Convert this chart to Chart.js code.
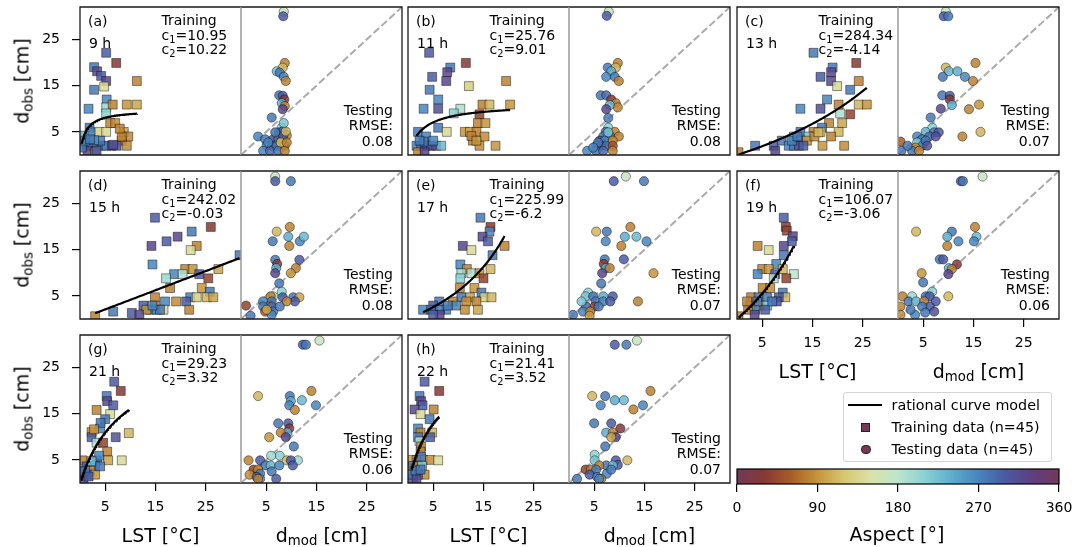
<!DOCTYPE html>
<html>
<head>
<meta charset="utf-8">
<script src="https://cdn.jsdelivr.net/npm/chart.js@4.4.1/dist/chart.umd.min.js"></script>
<style>
html, body { margin: 0; padding: 0; background: #fff; }
#stage { position: relative; width: 1072px; height: 547px; overflow: hidden; font-family: "DejaVu Sans", sans-serif; color: #000; }
#stage canvas { position: absolute; }
.t { position: absolute; white-space: nowrap; line-height: 1; transform: translateY(-50%); }
.s { font-size: 70%; vertical-align: -0.3em; line-height: 0; }
</style>
</head>
<body>
<div id="stage"></div>
<script>
// panel labels and fitted coefficients of the rational curve d = x / (c1 + c2 x) [m]
var panelTags = ['(a)', '(b)', '(c)', '(d)', '(e)', '(f)', '(g)', '(h)'];
var hourLabels = ['9 h', '11 h', '13 h', '15 h', '17 h', '19 h', '21 h', '22 h'];
var coefC1 = [10.95, 25.76, 284.34, 242.02, 225.99, 106.07, 29.23, 21.41];
var coefC2 = [10.22, 9.01, -4.14, -0.03, -6.2, -3.06, 3.32, 3.52];
var rmseTest = [0.08, 0.08, 0.07, 0.08, 0.07, 0.06, 0.06, 0.07];
var tickVals = [5, 15, 25];
var aspectTicks = [0, 90, 180, 270, 360];
var axisMax = 32;

// [LST, d_obs, aspect] for the training squares, [d_mod, d_obs, aspect] for the testing circles
var trainA = [[5.2,22.1,300],[7.2,19.9,30],[2.8,19.0,280],[3.4,18.1,320],[4.2,17.1,300],[5.2,16.0,320],[4.8,14.8,140],[2.8,14.1,280],[11.3,16.0,80],[5.3,12.0,270],[1.7,10.0,270],[5.2,10.3,200],[6.5,10.9,80],[9.3,10.9,90],[11.3,10.9,100],[5.2,9.0,210],[6.0,6.9,80],[7.0,6.9,85],[1.9,5.9,280],[3.8,5.0,130],[5.2,5.0,140],[2.1,4.9,270],[8.7,5.0,100],[9.6,4.0,85],[8.3,3.1,80],[9.3,2.0,85],[0.7,4.2,230],[1.3,2.0,280],[2.3,2.0,270],[3.3,2.0,280],[4.3,2.0,290],[5.3,2.0,270],[6.3,2.0,320],[7.3,2.0,310],[1.5,0.9,320],[3.0,0.6,80],[0.35,1.6,280],[4.0,3.1,280],[6.6,2.2,310],[8.3,4.0,80],[7.9,5.7,80],[2.8,3.2,260],[1.0,3.1,270],[2.0,3.4,280],[3.3,0.9,300]];
var testA = [[8.5,31.0,170],[8.4,30.0,300],[8.7,19.9,80],[8.3,18.9,110],[7.1,18.1,230],[7.7,17.8,280],[8.5,16.9,270],[8.9,16.0,80],[7.6,12.9,280],[8.3,12.8,300],[8.6,12.0,25],[8.1,11.2,240],[8.7,10.6,80],[8.3,9.9,320],[6.1,8.1,280],[8.1,5.9,210],[7.6,4.9,280],[8.4,5.2,300],[9.1,4.2,80],[3.4,4.0,270],[4.8,3.4,280],[6.4,3.4,310],[7.4,3.4,290],[8.1,3.1,80],[5.1,2.0,270],[6.1,2.0,310],[7.1,2.0,280],[8.7,2.0,80],[4.4,0.9,270],[5.8,0.9,290],[7.4,0.9,280],[8.7,0.9,80],[8.4,4.2,300],[7.9,2.7,110],[9.1,2.7,80],[6.8,4.9,280],[5.4,2.7,270],[8.9,5.1,110],[8.5,6.9,220]];
var trainB = [[4.2,22.1,300],[11.5,19.9,30],[8.4,18.9,280],[7.8,17.9,320],[4.8,16.9,300],[7.6,16.0,320],[12.1,14.9,130],[19.5,16.0,80],[4.3,14.1,280],[6.0,12.0,270],[3.1,10.0,270],[6.0,10.0,310],[10.4,10.0,190],[9.1,9.0,210],[14.8,10.9,80],[16.2,10.9,110],[20.3,10.9,90],[14.2,8.8,40],[13.9,6.9,80],[15.4,6.9,90],[6.0,5.9,280],[7.7,5.0,140],[11.3,5.0,90],[12.3,5.0,100],[13.6,5.0,80],[15.2,4.0,85],[12.9,3.1,80],[14.2,2.0,85],[17.4,2.0,90],[2.0,5.0,280],[3.6,4.0,270],[1.7,2.0,270],[2.6,2.0,280],[3.6,2.0,300],[4.6,2.0,310],[5.6,2.0,320],[6.6,2.0,230],[2.0,0.6,80],[3.3,0.6,320],[3.1,2.9,280],[12.6,4.1,80],[13.6,3.1,90],[2.3,3.1,280],[5.0,3.1,270]];
var testB = [[7.9,31.0,170],[7.5,30.1,300],[9.7,19.9,80],[7.7,18.9,280],[9.3,18.9,110],[8.4,18.1,240],[7.4,16.9,270],[9.1,16.9,280],[9.9,16.0,80],[6.3,12.9,280],[7.4,12.9,290],[8.4,12.0,25],[9.3,11.2,80],[9.7,10.3,85],[8.1,10.8,230],[7.4,9.9,320],[7.8,8.0,280],[7.8,5.9,210],[7.3,5.0,290],[9.1,5.0,80],[8.1,4.2,280],[9.9,4.0,80],[6.8,4.0,280],[6.1,3.1,310],[7.1,3.1,270],[8.7,3.1,80],[5.4,2.0,280],[6.4,2.0,310],[7.4,2.0,290],[8.7,2.0,50],[3.6,0.9,270],[5.4,0.9,280],[6.8,0.9,290],[8.7,0.9,80],[7.8,4.9,220],[5.8,2.7,280],[4.8,1.6,270]];
var trainC = [[15.2,22.1,280],[23.7,19.9,30],[19.0,18.9,280],[18.7,17.9,320],[16.6,16.9,300],[18.7,16.0,320],[19.9,14.9,140],[24.2,16.0,80],[22.5,14.1,280],[17.9,12.0,270],[12.6,10.0,270],[16.6,10.0,310],[20.5,9.0,190],[20.2,10.9,80],[24.2,10.9,110],[25.8,10.9,90],[22.5,8.8,40],[18.3,6.9,80],[20.9,6.9,100],[16.9,5.9,280],[16.6,5.0,130],[20.2,5.0,110],[15.2,5.0,80],[12.6,5.0,280],[14.2,4.0,220],[11.3,4.0,230],[12.6,3.1,270],[13.9,3.1,90],[18.7,4.0,80],[15.4,4.0,85],[3.6,2.0,280],[7.3,2.0,300],[8.9,3.1,280],[10.3,2.0,270],[11.3,2.0,280],[12.3,2.0,310],[13.2,2.0,300],[17.0,2.0,90],[21.3,2.0,85],[7.6,0.9,320],[0.3,0.6,80],[10.9,3.1,270],[12.0,4.0,280],[16.2,4.9,110]];
var testC = [[9.5,31.0,170],[9.1,30.0,300],[10.0,30.0,280],[15.4,19.9,80],[9.5,18.9,110],[10.1,18.1,230],[11.8,18.1,240],[13.3,16.9,270],[8.9,16.9,280],[14.9,16.0,80],[8.8,12.9,280],[10.3,12.8,300],[10.3,12.0,25],[10.7,10.8,240],[8.5,10.0,320],[14.1,9.9,80],[16.1,10.9,90],[6.5,8.1,280],[6.8,5.9,210],[5.5,5.0,230],[7.2,4.9,280],[8.1,4.9,300],[12.8,4.0,80],[16.4,5.0,110],[3.8,4.0,270],[4.8,3.4,280],[6.2,4.0,290],[7.5,4.0,310],[3.8,2.7,220],[4.8,2.0,270],[3.5,1.6,80],[2.8,0.9,280],[4.2,0.9,80],[0.5,2.9,60],[0.7,0.9,280],[5.5,3.1,280],[1.9,2.0,280],[5.8,2.0,310]];
var trainD = [[14.9,21.9,300],[26.0,19.9,30],[22.2,18.9,280],[19.4,17.8,320],[17.2,16.8,300],[14.2,15.8,320],[23.2,15.8,80],[22.0,14.9,140],[31.7,13.8,280],[14.4,11.8,270],[20.9,10.8,80],[22.4,10.8,90],[27.5,10.8,100],[23.7,9.7,300],[18.7,9.7,270],[20.4,9.7,190],[17.1,8.8,200],[25.5,8.8,40],[17.9,6.7,80],[24.2,6.7,90],[25.8,5.9,280],[21.9,4.7,270],[23.2,4.7,130],[25.2,4.7,110],[26.5,4.7,100],[14.9,4.7,80],[19.1,3.8,85],[21.1,3.8,300],[14.9,2.9,80],[16.9,3.8,270],[12.6,2.9,300],[13.9,2.0,280],[15.2,2.0,270],[16.6,2.0,140],[13.2,2.0,90],[15.9,2.0,280],[21.7,2.0,80],[10.3,1.3,300],[11.8,0.9,320],[6.6,1.6,280],[3.0,0.6,80],[14.4,2.9,270]];
var testD = [[6.8,30.8,170],[6.8,29.8,300],[9.9,29.8,280],[9.7,19.9,80],[7.1,18.9,110],[6.3,16.8,280],[9.4,17.8,240],[11.7,16.8,270],[12.5,17.8,230],[9.6,15.8,80],[6.8,12.8,280],[11.6,12.8,300],[7.2,11.9,25],[7.0,11.0,240],[6.8,9.9,320],[10.9,11.0,80],[9.9,9.9,90],[7.6,7.7,280],[8.1,5.9,210],[6.4,4.9,200],[5.9,4.9,80],[8.3,4.7,300],[10.4,4.7,280],[11.6,4.7,100],[10.7,3.8,300],[9.1,3.8,80],[4.4,3.8,270],[6.1,3.8,280],[5.6,2.7,80],[4.4,2.7,280],[6.1,2.7,290],[4.8,1.6,60],[6.4,1.6,280],[6.1,0.9,270],[1.9,0.7,280],[1.0,2.9,40],[7.7,2.7,280],[5.1,2.0,100]];
var trainE = [[14.4,21.9,280],[16.4,19.9,30],[16.2,18.9,270],[14.8,17.8,320],[15.9,16.8,300],[10.9,15.8,320],[12.6,14.9,140],[19.2,15.8,80],[16.8,13.8,280],[10.4,11.8,270],[11.7,10.8,80],[16.4,10.8,110],[10.6,9.9,200],[12.6,9.9,190],[14.2,9.9,90],[10.4,8.8,210],[15.0,8.8,40],[10.3,6.7,80],[13.2,6.7,90],[14.6,5.7,280],[12.3,4.7,100],[15.2,4.7,130],[16.6,4.7,110],[10.6,4.7,280],[8.9,3.8,80],[11.6,3.8,85],[13.6,3.8,80],[9.6,2.9,270],[6.2,3.8,280],[5.0,2.9,300],[7.6,2.0,270],[6.3,2.0,280],[11.3,2.0,85],[13.9,2.0,100],[3.0,2.0,270],[4.6,2.0,290],[6.3,0.9,320],[5.0,0.9,300],[7.9,2.9,280]];
var testE = [[11.3,30.8,170],[8.9,29.8,300],[14.9,29.8,280],[12.2,19.9,80],[5.4,18.9,110],[7.5,18.9,280],[11.1,17.8,240],[13.4,17.8,230],[7.3,16.8,270],[15.4,16.8,270],[10.4,15.8,80],[7.1,12.9,280],[10.9,12.9,300],[6.9,11.9,25],[7.3,11.0,240],[8.1,11.0,80],[6.6,9.9,320],[16.8,9.9,90],[6.4,7.7,280],[3.8,5.7,210],[3.3,4.9,220],[4.8,4.9,280],[6.8,4.9,240],[8.7,4.9,300],[5.3,3.8,280],[6.8,3.8,270],[8.2,3.8,300],[13.7,3.8,80],[3.4,2.7,290],[5.1,2.7,40],[2.8,1.6,270],[4.2,1.6,80],[0.8,0.9,280],[4.1,0.7,90],[2.5,3.8,220],[5.9,2.7,280]];
var trainF = [[9.3,21.9,300],[9.7,19.9,30],[9.9,19.1,40],[11.1,17.9,320],[10.9,16.8,300],[9.3,15.8,320],[4.1,15.8,80],[6.3,14.9,140],[9.3,13.8,280],[7.8,11.9,270],[5.0,10.8,80],[6.3,10.8,90],[9.1,10.8,110],[4.1,9.7,270],[7.6,9.7,300],[7.3,8.8,190],[11.3,9.7,180],[9.8,8.8,40],[5.1,6.7,80],[6.6,6.7,85],[9.1,5.7,280],[9.6,4.7,110],[8.3,4.7,300],[2.8,4.7,80],[4.3,4.7,280],[6.0,4.7,280],[2.6,2.9,85],[4.6,2.9,90],[6.0,2.9,220],[7.9,3.8,310],[3.6,2.0,270],[5.6,2.0,300],[2.2,2.0,80],[3.5,0.9,320],[0.3,0.6,80],[4.0,3.8,280],[7.0,3.8,280],[2.0,3.8,80]];
var testF = [[16.8,30.8,170],[12.5,29.8,300],[12.9,29.8,280],[15.3,19.9,80],[3.6,18.9,110],[10.7,18.9,280],[9.8,17.8,240],[15.6,17.8,230],[12.0,16.8,270],[15.1,16.8,270],[9.8,15.8,80],[8.3,12.9,280],[9.0,12.9,300],[11.7,11.8,25],[10.1,11.0,240],[10.7,10.8,80],[10.0,9.7,320],[4.7,9.9,90],[5.0,7.9,280],[6.8,5.9,210],[10.0,4.9,110],[0.9,4.9,80],[2.8,4.9,200],[2.1,3.8,280],[3.6,3.8,230],[5.5,4.9,280],[6.3,4.9,300],[7.5,3.8,300],[5.2,3.8,80],[6.3,2.7,300],[4.8,2.7,280],[0.5,2.7,80],[0.5,0.9,85],[3.4,0.9,270],[5.4,1.4,280],[7.2,1.6,310],[2.5,2.0,280]];
var trainG = [[6.8,21.9,300],[8.1,19.9,30],[5.3,18.8,280],[5.4,17.7,320],[6.6,16.8,300],[3.3,15.8,80],[6.0,14.9,140],[5.0,13.8,280],[4.0,11.8,270],[2.3,11.0,80],[9.7,10.8,110],[7.1,9.9,310],[2.3,9.9,300],[3.3,8.7,190],[4.6,8.7,40],[5.4,6.8,80],[5.6,4.9,100],[8.3,4.9,140],[3.4,4.9,280],[0.5,4.9,80],[3.8,5.9,270],[3.0,3.7,280],[1.3,3.6,300],[2.0,2.7,85],[3.0,1.8,90],[1.3,1.8,270],[0.7,0.9,320],[1.0,2.7,280],[2.3,4.7,230],[4.0,3.6,280],[0.2,2.5,280],[1.7,1.4,300],[4.1,13.0,280],[2.8,11.6,90]];
var testG = [[15.6,30.8,170],[12.3,29.9,300],[12.9,29.9,280],[14.0,19.9,80],[3.4,18.8,110],[9.7,18.8,280],[9.9,17.7,240],[12.1,17.9,230],[9.6,16.8,270],[14.9,16.8,270],[10.7,15.8,80],[7.4,12.9,280],[9.4,12.9,300],[9.6,11.8,25],[9.2,10.9,240],[7.9,10.9,80],[8.9,9.9,320],[5.6,9.9,90],[10.5,7.9,280],[7.7,5.9,210],[6.0,5.9,200],[11.3,4.9,200],[9.1,4.9,110],[1.5,4.9,80],[3.8,4.9,300],[9.9,4.9,300],[10.3,3.8,300],[4.9,3.8,280],[5.9,3.8,230],[7.6,3.8,270],[2.5,2.9,40],[3.4,2.9,80],[1.7,1.8,85],[3.8,2.0,280],[3.1,1.3,300],[3.8,0.9,270],[6.1,2.5,280],[7.0,0.9,300],[3.4,0.9,80]];
var trainH = [[3.3,21.9,300],[6.2,19.9,30],[2.3,18.8,280],[2.6,17.7,320],[2.9,16.8,300],[1.3,15.9,320],[5.1,15.9,80],[2.5,14.9,140],[4.3,13.8,280],[2.0,11.8,270],[2.5,10.9,80],[4.8,10.9,110],[4.4,9.9,300],[2.0,9.9,280],[2.3,9.0,190],[2.6,7.9,85],[2.5,6.8,80],[0.7,5.0,100],[3.0,5.0,110],[4.4,5.0,85],[6.0,4.9,140],[1.7,5.0,80],[2.6,5.7,280],[1.0,3.7,280],[2.0,3.6,80],[2.8,3.7,220],[1.3,2.7,90],[3.3,1.8,85],[2.0,1.8,270],[1.0,0.9,300],[0.7,1.8,280],[1.7,0.9,320],[1.5,2.7,280],[2.5,2.9,280]];
var testH = [[13.5,30.8,170],[9.1,29.9,300],[11.4,29.9,280],[16.2,19.9,80],[4.6,18.8,110],[7.2,18.8,280],[9.1,17.9,240],[10.9,17.9,230],[6.3,16.8,270],[14.7,16.8,270],[12.8,15.9,80],[5.0,12.9,280],[8.4,12.9,300],[10.2,11.8,25],[7.4,10.9,240],[8.7,10.9,80],[9.3,9.9,320],[8.4,9.9,100],[7.2,7.9,280],[5.1,6.1,210],[11.6,4.9,110],[9.3,4.9,300],[9.7,3.9,300],[5.1,4.9,220],[7.4,3.8,280],[8.7,3.8,230],[6.0,3.8,80],[3.3,2.9,40],[4.4,2.9,80],[5.4,2.9,280],[7.5,2.0,270],[4.1,1.8,300],[5.6,1.3,280],[6.4,0.9,80],[6.0,0.9,270],[1.6,0.9,280],[8.4,2.9,280]];

var trainSets = [trainA, trainB, trainC, trainD, trainE, trainF, trainG, trainH];
var testSets = [testA, testB, testC, testD, testE, testF, testG, testH];

// cyclic aspect colormap
var cmapStops = [[0,115,57,87],[30,134,56,52],[60,168,92,38],[90,198,148,58],[120,214,199,112],[150,217,226,168],[180,188,229,204],[210,138,209,212],[240,94,173,206],[270,70,133,190],[300,74,90,163],[330,94,62,128],[360,115,57,87]];

function aspectColor(a, alpha) {
    a = Math.max(0, Math.min(360, a));
    for (var i = 1; i < cmapStops.length; i++) {
        var s0 = cmapStops[i - 1], s1 = cmapStops[i];
        if (a <= s1[0]) {
            var f = (a - s0[0]) / (s1[0] - s0[0]);
            var c = [1, 2, 3].map(function(k) { return Math.round(s0[k] + f * (s1[k] - s0[k])); });
            return 'rgba(' + c[0] + ',' + c[1] + ',' + c[2] + ',' + alpha + ')';
        }
    }
}

var stage = document.getElementById('stage');
Chart.defaults.font.family = '"DejaVu Sans", sans-serif';
Chart.defaults.color = '#000';

var colLeft = [80, 408, 737];
var rowTop = [7, 171, 335];
var halfW = 161, plotH = 148;
var edge = 3;
var tickFont = {size: 14};

// black panel frame, grey line between the training and testing halves
var framePlugin = {
    id: 'frame',
    afterDatasetsDraw: function(chart, args, opts) {
        var ctx = chart.ctx, a = chart.chartArea;
        ctx.save();
        ctx.lineWidth = 1.3;
        ctx.strokeStyle = '#1a1a1a';
        ctx.beginPath();
        if (opts.side === 'left') {
            ctx.moveTo(a.right, a.top); ctx.lineTo(a.left, a.top);
            ctx.lineTo(a.left, a.bottom); ctx.lineTo(a.right, a.bottom);
        } else {
            ctx.moveTo(a.left, a.top); ctx.lineTo(a.right, a.top);
            ctx.lineTo(a.right, a.bottom); ctx.lineTo(a.left, a.bottom);
        }
        ctx.stroke();
        var x = opts.side === 'left' ? a.right : a.left;
        ctx.strokeStyle = '#9a9a9a';
        ctx.lineWidth = 1;
        ctx.beginPath(); ctx.moveTo(x, a.top); ctx.lineTo(x, a.bottom); ctx.stroke();
        ctx.restore();
    }
};

function fixedTicks(vals) {
    return function(scale) { scale.ticks = vals.map(function(v) { return {value: v}; }); };
}

// keep the axis bands at a fixed size so every plot box lines up
function fixHeight(h) {
    return function(s) { s.height = h; s.paddingLeft = 0; s.paddingRight = 0; };
}
function fixWidth(w) {
    return function(s) { s.width = w; s.paddingTop = 0; s.paddingBottom = 0; };
}

var tickGrid = {display: true, drawOnChartArea: false, drawTicks: true, tickLength: 8, color: '#000', lineWidth: 1.2};

function makeCanvas(left, top, w, h) {
    var cv = document.createElement('canvas');
    cv.width = w; cv.height = h;
    cv.style.left = left + 'px';
    cv.style.top = top + 'px';
    cv.style.width = w + 'px';
    cv.style.height = h + 'px';
    stage.appendChild(cv);
    return cv;
}

function halfPanel(left, top, showX, showY, side, datasets) {
    var padL = showY ? 80 : edge, padB = showX ? 60 : edge;
    var cv = makeCanvas(left - padL, top - edge, padL + halfW + edge, edge + plotH + padB);
    var xScale = {
        type: 'linear', min: 0, max: axisMax, display: showX,
        afterBuildTicks: fixedTicks(tickVals),
        grid: tickGrid, border: {display: false},
        ticks: {font: tickFont, color: '#000', padding: 8, maxRotation: 0, autoSkip: false}
    };
    var yScale = {
        type: 'linear', min: 0, max: axisMax, display: showY,
        afterBuildTicks: fixedTicks(tickVals),
        grid: tickGrid, border: {display: false},
        ticks: {font: tickFont, color: '#000', padding: 12}
    };
    if (showX) xScale.afterFit = fixHeight(60);
    if (showY) yScale.afterFit = fixWidth(80);
    new Chart(cv, {
        type: 'scatter',
        data: {datasets: datasets},
        plugins: [framePlugin],
        options: {
            responsive: false, maintainAspectRatio: false, animation: false, devicePixelRatio: 1, events: [],
            layout: {autoPadding: false, padding: {left: showY ? 0 : edge, right: edge, top: edge, bottom: showX ? 0 : edge}},
            plugins: {legend: {display: false}, tooltip: {enabled: false}, frame: {side: side}},
            scales: {x: xScale, y: yScale}
        }
    });
}

function addText(html, x, cy, size, align) {
    var d = document.createElement('div');
    d.className = 't';
    d.innerHTML = html;
    d.style.fontSize = size + 'px';
    d.style.top = cy + 'px';
    if (align === 'right') d.style.right = (1072 - x) + 'px';
    else if (align === 'center') { d.style.left = x + 'px'; d.style.transform = 'translate(-50%,-50%)'; }
    else d.style.left = x + 'px';
    stage.appendChild(d);
    return d;
}

panelTags.forEach(function(tag, i) {
    var col = i % 3, row = Math.floor(i / 3);
    var left = colLeft[col], top = rowTop[row];
    var showX = row === 2 || i === 5;
    var train = trainSets[i], test = testSets[i];

    // fitted curve over the LST range of the training data
    var xs = train.map(function(p) { return p[0]; });
    var lo = Math.min.apply(null, xs), hi = Math.max.apply(null, xs);
    var curve = [];
    for (var k = 0; k <= 80; k++) {
        var x = lo + (hi - lo) * k / 80;
        curve.push({x: x, y: 100 * x / (coefC1[i] + coefC2[i] * x)});
    }

    halfPanel(left, top, showX, col === 0, 'left', [
        {data: curve, showLine: true, borderColor: '#000', borderWidth: 2.2, pointRadius: 0, clip: 0},
        {
            data: train.map(function(p) { return {x: p[0], y: p[1]}; }),
            pointStyle: 'rect', pointRadius: 6.3,
            pointBackgroundColor: train.map(function(p) { return aspectColor(p[2], 0.85); }),
            pointBorderColor: 'rgba(0,0,0,0.55)', pointBorderWidth: 0.8, clip: 0
        }
    ]);
    halfPanel(left + halfW, top, showX, false, 'right', [
        {
            data: test.map(function(p) { return {x: p[0], y: p[1]}; }),
            pointStyle: 'circle', pointRadius: 4.6,
            pointBackgroundColor: test.map(function(p) { return aspectColor(p[2], 0.85); }),
            pointBorderColor: 'rgba(0,0,0,0.55)', pointBorderWidth: 0.8, clip: 0
        },
        {data: [{x: 0, y: 0}, {x: axisMax, y: axisMax}], showLine: true, borderColor: '#aaaaaa',
         borderWidth: 2, borderDash: [7.4, 3.2], pointRadius: 0, clip: 0}
    ]);

    addText(tag, left + 8, top + 14, 14);
    addText(hourLabels[i], left + 9, top + 35.5, 14);
    addText('Training', left + 81.5, top + 13.4, 14);
    addText('c<span class="s">1</span>=' + coefC1[i], left + 81.5, top + 27.8, 14);
    addText('c<span class="s">2</span>=' + coefC2[i], left + 81.5, top + 42.2, 14);
    addText('Testing', left + 313, top + 103, 14, 'right');
    addText('RMSE:', left + 313, top + 118, 14, 'right');
    addText(rmseTest[i].toFixed(2), left + 313, top + 133.5, 14, 'right');

    if (col === 0) {
        var yt = addText('d<span class="s">obs</span> [cm]', 22, top + plotH / 2, 19, 'center');
        yt.style.transform = 'translate(-50%,-50%) rotate(-90deg)';
    }
    if (showX) {
        var ty = top + plotH + 51.5;
        addText('LST [°C]', left + halfW / 2, ty, 19, 'center');
        addText('d<span class="s">mod</span> [cm]', left + halfW * 1.5, ty, 19, 'center');
    }
});

// colorbar for the aspect colours
var cbLeft = 737, cbTop = 469, cbW = 322, cbH = 15, cbSide = 16;
var cbFill = {
    id: 'cbFill',
    beforeDatasetsDraw: function(chart) {
        var ctx = chart.ctx, a = chart.chartArea;
        var g = ctx.createLinearGradient(a.left, 0, a.right, 0);
        for (var v = 0; v <= 360; v += 5) g.addColorStop(v / 360, aspectColor(v, 1));
        ctx.save();
        ctx.fillStyle = g;
        ctx.fillRect(a.left, a.top, a.right - a.left, a.bottom - a.top);
        ctx.strokeStyle = '#000';
        ctx.lineWidth = 1.2;
        ctx.strokeRect(a.left, a.top, a.right - a.left, a.bottom - a.top);
        ctx.restore();
    }
};
var cbCanvas = makeCanvas(cbLeft - cbSide, cbTop - edge, cbW + 2 * cbSide, edge + cbH + 60);
new Chart(cbCanvas, {
    type: 'scatter',
    data: {datasets: []},
    plugins: [cbFill],
    options: {
        responsive: false, maintainAspectRatio: false, animation: false, devicePixelRatio: 1, events: [],
        layout: {autoPadding: false, padding: {left: cbSide, right: cbSide, top: edge, bottom: 0}},
        plugins: {legend: {display: false}, tooltip: {enabled: false}},
        scales: {
            x: {
                type: 'linear', min: 0, max: 360,
                afterBuildTicks: fixedTicks(aspectTicks),
                afterFit: fixHeight(60),
                grid: tickGrid, border: {display: false},
                ticks: {font: tickFont, color: '#000', padding: 8, maxRotation: 0, autoSkip: false}
            },
            y: {type: 'linear', min: 0, max: 1, display: false}
        }
    }
});
addText('Aspect [°]', 897, 534, 19, 'center');

// legend
var box = document.createElement('div');
box.style.cssText = 'position:absolute;left:843px;top:392px;width:207px;height:68px;border:1px solid #d4d4d4;border-radius:3px;background:rgba(255,255,255,0.8);';
stage.appendChild(box);
var lineKey = document.createElement('div');
lineKey.style.cssText = 'position:absolute;left:848px;top:404px;width:34px;height:2.2px;background:#000;';
stage.appendChild(lineKey);
var sqKey = document.createElement('div');
sqKey.style.cssText = 'position:absolute;left:861px;top:423px;width:7px;height:7px;border:0.7px solid rgba(0,0,0,0.55);background:' + aspectColor(0, 1) + ';';
stage.appendChild(sqKey);
var ciKey = document.createElement('div');
ciKey.style.cssText = 'position:absolute;left:861px;top:444.5px;width:7.5px;height:7.5px;border-radius:50%;border:0.7px solid rgba(0,0,0,0.55);background:' + aspectColor(0, 1) + ';';
stage.appendChild(ciKey);
addText('rational curve model', 891.5, 405, 14.3);
addText('Training data (n=45)', 891.5, 427, 14.3);
addText('Testing data (n=45)', 891.5, 448.5, 14.3);
</script>
</body>
</html>
